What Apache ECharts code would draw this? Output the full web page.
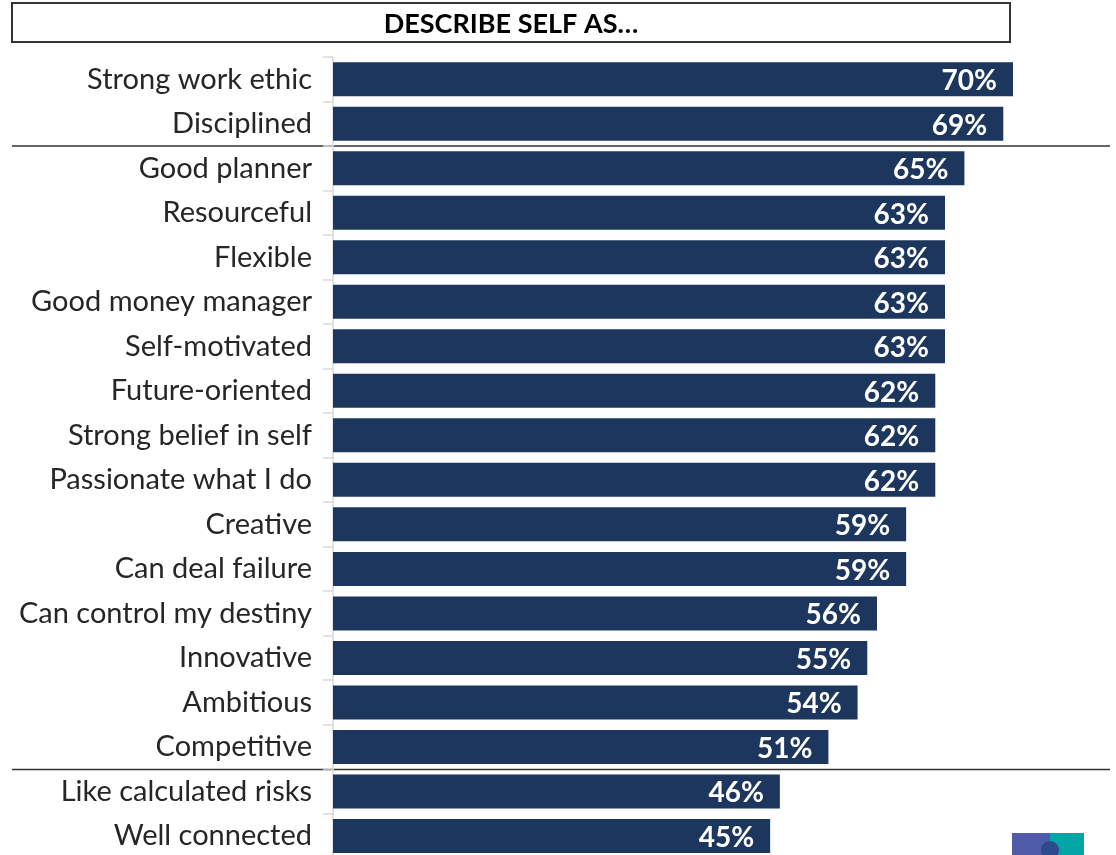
<!DOCTYPE html>
<html>
<head>
<meta charset="utf-8">
<script src="https://cdn.jsdelivr.net/npm/echarts@6/dist/echarts.min.js"></script>
<style>
html,body{margin:0;padding:0;background:#fff;}
#chart{width:1116px;height:855px;}
</style>
</head>
<body>
<div id="chart"></div>
<script>
const titleText = 'DESCRIBE SELF AS…';
const categories = ['Strong work ethic','Disciplined','Good planner','Resourceful','Flexible','Good money manager','Self-motivated','Future-oriented','Strong belief in self','Passionate what I do','Creative','Can deal failure','Can control my destiny','Innovative','Ambitious','Competitive','Like calculated risks','Well connected'];
const values = [70,69,65,63,63,63,63,62,62,62,59,59,56,55,54,51,46,45];

const chart = echarts.init(document.getElementById('chart'));
const font = 'Lato, "Open Sans", sans-serif';
chart.setOption({
  animation: false,
  grid: {left: 333, width: 680, top: 57, height: 801.2, containLabel: false, outerBoundsMode: 'none'},
  xAxis: {type: 'value', min: 0, max: 70, show: false},
  yAxis: {
    type: 'category', data: categories, inverse: true,
    axisLine: {show: true, lineStyle: {color: '#d9d9d9', width: 1.5}},
    axisTick: {show: true, length: 10, lineStyle: {color: '#d9d9d9', width: 1.5}},
    axisLabel: {color: '#262626', fontSize: 29, fontFamily: font, margin: 21}
  },
  series: [{
    type: 'bar', data: values, barWidth: 34,
    itemStyle: {color: '#1d365d'},
    label: {show: true, position: 'insideRight', distance: 16, offset: [0, 2], formatter: '{c}%', color: '#fff', fontWeight: 'bold', fontSize: 28, fontFamily: font}
  }],
  graphic: [
    {type: 'rect', shape: {x: 12, y: 3, width: 998, height: 39}, style: {fill: '#fff', stroke: '#333', lineWidth: 2}},
    {type: 'text', x: 511, y: 24, style: {text: titleText, fill: '#000', font: 'bold 27px ' + font, textAlign: 'center', textVerticalAlign: 'middle'}},
    {type: 'line', shape: {x1: 12, y1: 146, x2: 1110, y2: 146}, style: {stroke: '#333', lineWidth: 1.5}},
    {type: 'line', shape: {x1: 12, y1: 769.5, x2: 1110, y2: 769.5}, style: {stroke: '#333', lineWidth: 1.5}},
    {type: 'rect', shape: {x: 1012, y: 833, width: 38, height: 22}, style: {fill: '#4f5aa8'}},
    {type: 'rect', shape: {x: 1050, y: 833, width: 34, height: 22}, style: {fill: '#00a6a6'}},
    {type: 'circle', shape: {cx: 1050, cy: 850, r: 9}, style: {fill: '#2c4a8c'}}
  ]
});
</script>
</body>
</html>
